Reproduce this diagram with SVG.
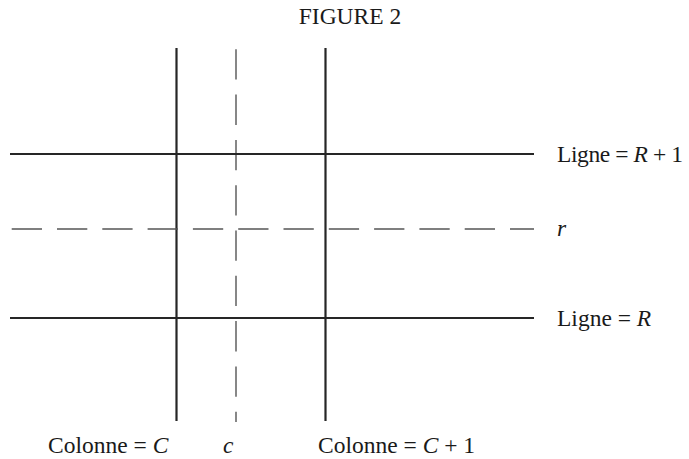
<svg xmlns="http://www.w3.org/2000/svg" width="689" height="459" viewBox="0 0 689 459">
<style>
.solid{stroke:#262626;stroke-width:2.2;fill:none}
.dash{stroke:#555;stroke-width:1.4;fill:none;stroke-dasharray:30.3 15}
text{font-family:"Liberation Serif","Times New Roman",serif;font-size:23.5px;fill:#1a1a1a}
.it{font-style:italic}
</style>
<rect width="689" height="459" fill="#fff"/>
<g id="connectors">
<line class="solid" x1="176.5" y1="48" x2="176.5" y2="421"/>
<line class="solid" x1="325.5" y1="48" x2="325.5" y2="421"/>
<line class="dash" x1="236" y1="49.3" x2="236" y2="422"/>
<line class="solid" x1="10" y1="154" x2="534" y2="154"/>
<line class="solid" x1="10" y1="318" x2="534" y2="318"/>
<line class="dash" x1="11.7" y1="229" x2="534" y2="229"/>
</g>
<g id="title"><text x="350" y="24" text-anchor="middle">FIGURE 2</text></g>
<g id="label-r1"><text x="557" y="162" textLength="126">Ligne = <tspan class="it">R</tspan> + 1</text></g>
<g id="label-r"><text x="557" y="236" class="it">r</text></g>
<g id="label-R"><text x="557" y="326">Ligne = <tspan class="it">R</tspan></text></g>
<g id="label-C"><text x="48" y="453">Colonne = <tspan class="it">C</tspan></text></g>
<g id="label-c"><text x="223" y="453" class="it">c</text></g>
<g id="label-C1"><text x="318" y="453">Colonne = <tspan class="it">C</tspan> + 1</text></g>
</svg>
